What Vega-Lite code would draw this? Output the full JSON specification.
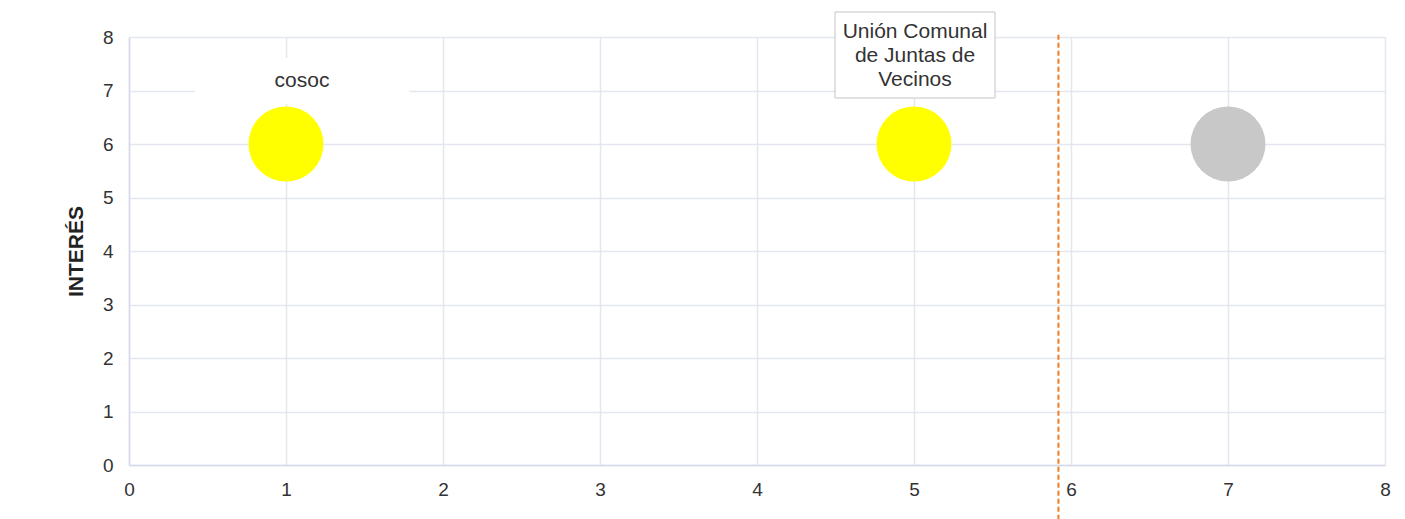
{
  "$schema": "https://vega.github.io/schema/vega-lite/v6.json",
  "width": 1256,
  "height": 428,
  "autosize": {"type": "none"},
  "padding": {"left": 129, "top": 37, "right": 20, "bottom": 54},
  "background": "white",
  "config": {
    "view": {"stroke": null},
    "font": "Liberation Sans",
    "axis": {
      "gridColor": "#e4e7ef",
      "gridWidth": 1.5,
      "domainColor": "#d5dae6",
      "domainWidth": 1.5,
      "ticks": false,
      "labelColor": "#333333",
      "labelFontSize": 19,
      "labelFont": "Liberation Sans",
      "labelFlush": false,
      "format": "d"
    }
  },
  "datasets": {
    "actores": [
      {"actor": "cosoc", "poder": 1, "interes": 6, "grupo": "amarillo"},
      {"actor": "Unión Comunal\nde Juntas de\nVecinos", "poder": 5, "interes": 6, "grupo": "amarillo"},
      {"actor": "", "poder": 7, "interes": 6, "grupo": "gris"}
    ],
    "umbral": [{"poder": 5.92, "desde": 8.04, "hasta": -1.3}]
  },
  "layer": [
    {
      "data": {"name": "umbral"},
      "mark": {"type": "rule", "color": "#ef7d22", "strokeWidth": 2, "strokeDash": [5, 3], "clip": false},
      "encoding": {
        "x": {"field": "poder", "type": "quantitative", "scale": {"domain": [0, 8]},
          "axis": {"values": [0,1,2,3,4,5,6,7,8], "title": null, "labelPadding": 15, "grid": true, "format": "d", "labelFlush": false}},
        "y": {"field": "desde", "type": "quantitative", "scale": {"domain": [0, 8]},
          "axis": {"values": [0,1,2,3,4,5,6,7,8], "title": "INTERÉS", "labelPadding": 16, "grid": true, "format": "d", "labelFlush": false,
            "titleX": -53, "titleY": 214, "titleAngle": -90, "titleAlign": "center", "titleBaseline": "middle",
            "titleFontSize": 21, "titleFontWeight": "bold", "titleColor": "#222222", "titleFont": "Liberation Sans"}},
        "y2": {"field": "hasta"}
      }
    },
    {
      "data": {"name": "actores"},
      "transform": [{"filter": "datum.actor == 'cosoc'"}],
      "mark": {"type": "point", "filled": true, "fill": "white", "opacity": 1, "strokeWidth": 0,
        "shape": "M-1,-0.214L1,-0.214L1,0.214L-1,0.214Z", "size": 46225, "xOffset": 16, "yOffset": -63},
      "encoding": {
        "x": {"field": "poder", "type": "quantitative"},
        "y": {"field": "interes", "type": "quantitative"}
      }
    },
    {
      "data": {"name": "actores"},
      "transform": [{"filter": "datum.poder == 5"}],
      "mark": {"type": "point", "filled": true, "fill": "white", "opacity": 1, "stroke": "#c4c4c4", "strokeWidth": 1,
        "shape": "M-1,-0.5375L1,-0.5375L1,0.5375L-1,0.5375Z", "size": 25600, "xOffset": 1, "yOffset": -89},
      "encoding": {
        "x": {"field": "poder", "type": "quantitative"},
        "y": {"field": "interes", "type": "quantitative"}
      }
    },
    {
      "data": {"name": "actores"},
      "mark": {"type": "circle", "size": 5625, "opacity": 1},
      "encoding": {
        "x": {"field": "poder", "type": "quantitative"},
        "y": {"field": "interes", "type": "quantitative"},
        "color": {"field": "grupo", "type": "nominal", "legend": null,
          "scale": {"domain": ["amarillo", "gris"], "range": ["#ffff00", "#c8c8c8"]}}
      }
    },
    {
      "data": {"name": "actores"},
      "transform": [{"filter": "datum.actor == 'cosoc'"}],
      "mark": {"type": "text", "fontSize": 21, "color": "#333333", "xOffset": 16, "yOffset": -63, "baseline": "middle"},
      "encoding": {
        "x": {"field": "poder", "type": "quantitative"},
        "y": {"field": "interes", "type": "quantitative"},
        "text": {"field": "actor"}
      }
    },
    {
      "data": {"name": "actores"},
      "transform": [{"filter": "datum.poder == 5"}],
      "mark": {"type": "text", "fontSize": 21, "color": "#333333", "xOffset": 1, "yOffset": -112,
        "baseline": "middle", "lineBreak": "\n", "lineHeight": 24},
      "encoding": {
        "x": {"field": "poder", "type": "quantitative"},
        "y": {"field": "interes", "type": "quantitative"},
        "text": {"field": "actor"}
      }
    }
  ]
}
